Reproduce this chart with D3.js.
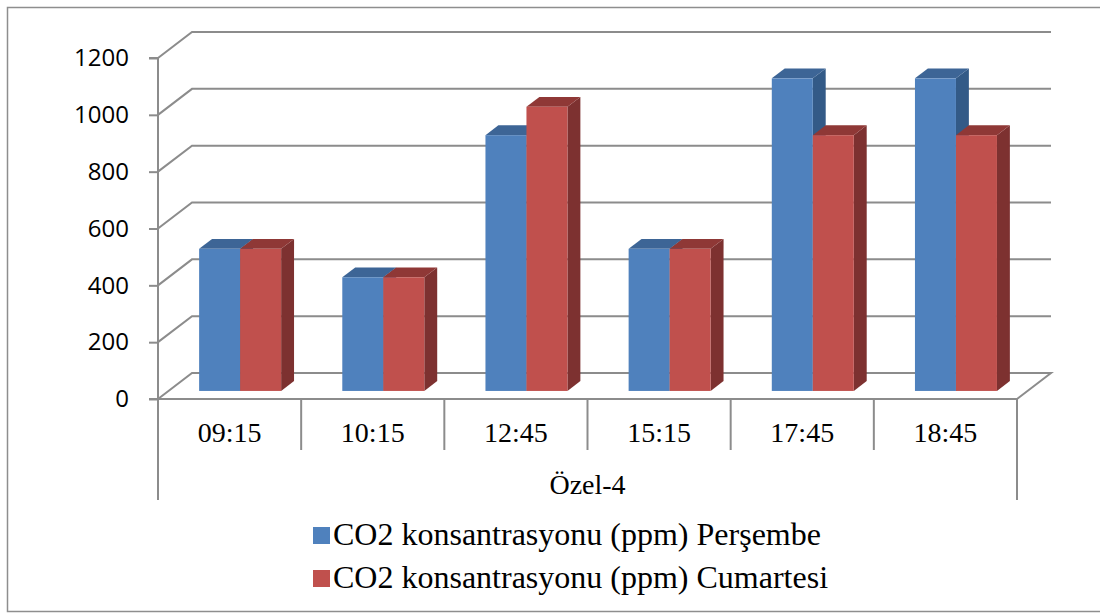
<!DOCTYPE html>
<html>
<head>
<meta charset="utf-8">
<script src="https://cdn.jsdelivr.net/npm/d3@7"></script>
<style>
  html, body { margin: 0; padding: 0; background: #fff; }
  svg { display: block; }
</style>
</head>
<body>
<svg id="chart" width="1100" height="613"></svg>
<script>
// Data
const categories = ["09:15", "10:15", "12:45", "15:15", "17:45", "18:45"];
const groupLabel = "Özel-4";
const seriesNames = ["CO2 konsantrasyonu (ppm) Perşembe", "CO2 konsantrasyonu (ppm) Cumartesi"];
const persembe = [500, 400, 900, 500, 1100, 1100];
const cumartesi = [500, 400, 1000, 500, 900, 900];
const yTicks = [0, 200, 400, 600, 800, 1000, 1200];

const series = [persembe, cumartesi];
const colors = [
  { front: "#4f81bd", top: "#3d6596", side: "#335a87" },
  { front: "#c0504d", top: "#8f3836", side: "#7d3130" }
];

const svg = d3.select("#chart");

// Outer frame
svg.append("rect")
  .attr("x", 7.5).attr("y", 7.5)
  .attr("width", 1100).attr("height", 604)
  .attr("fill", "none").attr("stroke", "#8e8e8e").attr("stroke-width", 1.5);

// Plot geometry (front plane) and depth projection
const x0 = 158, x1 = 1017, yBase = 399, yTop = 58;
const depth = { dx: 34, dy: -26 };
const barDepth = [0.31, 0.69]; // bar front/back as fraction of floor depth

const x = d3.scaleBand().domain(categories).range([x0, x1]).padding(0);
const xs = d3.scaleBand().domain(d3.range(series.length))
  .range([0, x.bandwidth()]).paddingInner(0).paddingOuter(0.746);
const y = d3.scaleLinear().domain([0, 1200]).range([yBase, yTop]);

const grid = "#8c8c8c";
const g = svg.append("g");

// Back wall gridlines with diagonal connectors on the side
yTicks.forEach(t => {
  const yy = y(t);
  if (t === 0) return;
  g.append("path")
    .attr("d", `M${x0},${yy} L${x0 + depth.dx},${yy + depth.dy} L${x1 + depth.dx},${yy + depth.dy}`)
    .attr("fill", "none").attr("stroke", grid).attr("stroke-width", 2);
});

// Floor
g.append("path")
  .attr("d", `M${x0},${yBase} L${x0 + depth.dx},${yBase + depth.dy} L${x1 + depth.dx},${yBase + depth.dy} L${x1},${yBase}`)
  .attr("fill", "none").attr("stroke", grid).attr("stroke-width", 2);

// Bars (side, top, front for each)
const fx = depth.dx * barDepth[0], fy = depth.dy * barDepth[0];
const bx = depth.dx * barDepth[1], by = depth.dy * barDepth[1];
const bars = g.append("g");
categories.forEach((c, i) => {
  series.forEach((s, k) => {
    const v = s[i];
    const left = x(c) + xs(k) + fx;
    const right = left + xs.bandwidth();
    const top = y(v) + fy;
    const bottom = y(0) + fy;
    const ddx = bx - fx, ddy = by - fy;
    const col = colors[k];
    bars.append("path")
      .attr("d", `M${right},${top} L${right + ddx},${top + ddy} L${right + ddx},${bottom + ddy} L${right},${bottom} Z`)
      .attr("fill", col.side);
    bars.append("path")
      .attr("d", `M${left},${top} L${left + ddx},${top + ddy} L${right + ddx},${top + ddy} L${right},${top} Z`)
      .attr("fill", col.top);
    bars.append("rect")
      .attr("x", left).attr("y", top)
      .attr("width", right - left).attr("height", bottom - top)
      .attr("fill", col.front);
  });
});

// Y axis
const yAxis = svg.append("g").attr("transform", `translate(${x0},0)`)
  .call(d3.axisLeft(y).tickValues(yTicks).tickSize(9).tickPadding(20).tickFormat(d3.format("d")));
yAxis.select(".domain").attr("stroke", grid).attr("stroke-width", 2)
  .attr("d", `M-9,${yTop}H0V${500}`);
yAxis.selectAll(".tick line").attr("stroke", grid).attr("stroke-width", 2);
yAxis.selectAll(".tick text")
  .attr("font-family", "'Open Sans', sans-serif").attr("font-size", 24).attr("fill", "#000");

// Category axis (front floor edge + dividers)
const xAxis = svg.append("g");
xAxis.append("line").attr("x1", x0 - 9).attr("x2", x1).attr("y1", yBase).attr("y2", yBase)
  .attr("stroke", grid).attr("stroke-width", 2);
categories.forEach((c, i) => {
  if (i === 0) return;
  xAxis.append("line").attr("x1", x(c)).attr("x2", x(c)).attr("y1", yBase).attr("y2", 450)
    .attr("stroke", grid).attr("stroke-width", 2);
});
xAxis.append("line").attr("x1", x1).attr("x2", x1).attr("y1", yBase).attr("y2", 500)
  .attr("stroke", grid).attr("stroke-width", 2);
xAxis.selectAll("text.cat").data(categories).join("text")
  .attr("class", "cat")
  .attr("x", d => x(d) + x.bandwidth() / 2).attr("y", 442)
  .attr("text-anchor", "middle")
  .attr("font-family", "'Liberation Serif', 'Times New Roman', serif").attr("font-size", 28)
  .text(d => d);
xAxis.append("text")
  .attr("x", (x0 + x1) / 2).attr("y", 494)
  .attr("text-anchor", "middle")
  .attr("font-family", "'Liberation Serif', 'Times New Roman', serif").attr("font-size", 28)
  .text(groupLabel);

// Legend
const legend = svg.append("g");
seriesNames.forEach((name, k) => {
  const ly = 545 + k * 43;
  legend.append("rect").attr("x", 313).attr("y", ly - 18).attr("width", 17).attr("height", 17)
    .attr("fill", colors[k].front);
  legend.append("text").attr("x", 333).attr("y", ly)
    .attr("font-family", "'Liberation Serif', 'Times New Roman', serif").attr("font-size", 32)
    .text(name);
});
</script>
</body>
</html>
